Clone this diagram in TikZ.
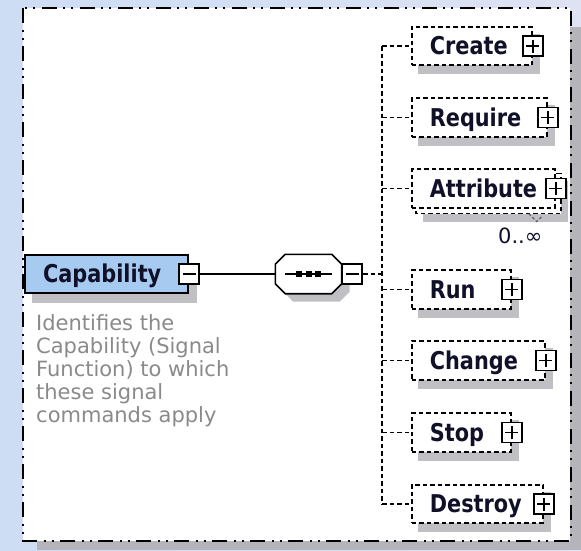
\documentclass[tikz,border=0pt]{standalone}
\usepackage{fontspec}
\usetikzlibrary{calc}
\newfontfamily\elemfont[FakeStretch=0.85]{DejaVu Sans}
\newfontfamily\notefont{DejaVu Sans}

\definecolor{deskleft}{RGB}{205,221,244}
\definecolor{deskright}{RGB}{222,226,243}
\definecolor{panelshade}{RGB}{180,180,186}
\definecolor{boxshade}{RGB}{192,192,196}
\definecolor{rootfill}{RGB}{166,202,240}
\definecolor{elemtext}{RGB}{16,16,40}
\definecolor{notegray}{RGB}{138,138,138}

\pgfdeclarelayer{panel}
\pgfdeclarelayer{shade}
\pgfsetlayers{panel,shade,main}

% outline of the sequence compositor (chamfered rectangle around a named node)
\newcommand\seqoutline[1]{([xshift=10pt]#1.north west) -- ([xshift=-10pt]#1.north east)
  -- ([yshift=-10pt]#1.north east) -- ([yshift=10pt]#1.south east)
  -- ([xshift=-10pt]#1.south east) -- ([xshift=10pt]#1.south west)
  -- ([yshift=10pt]#1.south west) -- ([yshift=-10pt]#1.north west) -- cycle}

\tikzset{
  panelborder/.style={line width=2.4pt, dash pattern=on 15pt off 7pt on 2pt off 6pt on 2pt off 6pt},
  elemlabel/.style={font=\elemfont\bfseries\fontsize{24.5}{28}\selectfont, text=elemtext},
  childbox/.style={elemlabel, draw, fill=white, line width=1.7pt, dash pattern=on 4.5pt off 3pt,
    anchor=west, inner sep=0pt, minimum height=38.5pt, text height=22pt, text depth=5pt,
    align=left, text width=#1},
  stackbox/.style={draw, fill=white, line width=1.7pt, dash pattern=on 4.5pt off 3pt},
  rootbox/.style={elemlabel, draw, fill=rootfill, line width=2.2pt, anchor=west, inner sep=0pt,
    minimum height=38pt, text height=22pt, text depth=5pt, align=left, text width=#1},
  togglebox/.style={draw, fill=white, line width=1.6pt, minimum size=20pt, inner sep=0pt},
  minusbox/.style={togglebox, path picture={\draw[line width=1.8pt]
    ([xshift=-6.5pt]path picture bounding box.center) -- ([xshift=6.5pt]path picture bounding box.center);}},
  plusbox/.style={togglebox, path picture={\draw[line width=1.8pt]
    ([xshift=-6.5pt]path picture bounding box.center) -- ([xshift=6.5pt]path picture bounding box.center)
    ([yshift=-6.5pt]path picture bounding box.center) -- ([yshift=6.5pt]path picture bounding box.center);}},
  link/.style={line width=1.6pt},
  conn/.style={line width=1.7pt, dash pattern=on 4.5pt off 3pt},
  note/.style={font=\notefont\fontsize{21}{23}\selectfont, text=notegray, align=left, inner sep=0pt},
  occurs/.style={font=\notefont\fontsize{21}{23}\selectfont, text=elemtext, inner sep=0pt},
}

\begin{document}
\begin{tikzpicture}[x=1pt, y=-1pt]
\useasboundingbox (0,0) rectangle (581,550);

% desktop, panel shadow, panel and its border
\begin{pgfonlayer}{panel}
  \shade[left color=deskleft, right color=deskright] (0,0) rectangle (581,550);
  \fill[panelshade] (37,27) rectangle (581,550);
  \fill[white] (23,8) rectangle (569.5,541);
  \draw[panelborder] (23,8) rectangle (571,541);
\end{pgfonlayer}

% root element
\node[rootbox=163pt] (capability) at (24,274) {\hspace*{18pt}Capability};
\node[minusbox] (capminus) at (capability.east) {};
\node[note, anchor=north west] (capnote) at (36,314)
  {Identifies the\\Capability (Signal\\Function) to which\\these signal\\commands apply};

% sequence compositor
\node[inner sep=0pt, minimum width=66pt, minimum height=39pt] (seq) at (308.5,274) {};
\draw[link, fill=white] \seqoutline{seq};
\draw[link] ([xshift=-23.5pt]seq.center) -- ([xshift=23.5pt]seq.center);
\foreach \dx in {-9.5,0,9.5}
  \fill ([xshift=\dx pt]seq.center) +(-3,-3) rectangle +(3,3);
\node[minusbox] (seqminus) at ([xshift=10.5pt]seq.east) {};

% child elements
\node[childbox=120pt] (create)    at (411,46)    {\hspace*{18pt}Create};
\node[childbox=135pt] (require)   at (411,117.5) {\hspace*{18pt}Require};
\node[childbox=143pt] (attribute) at (411,188.5) {\hspace*{18pt}Attribute};
\node[childbox=99pt]  (run)       at (411,289.5) {\hspace*{18pt}Run};
\node[childbox=133pt] (change)    at (411,360.5) {\hspace*{18pt}Change};
\node[childbox=99pt]  (stop)      at (411,432.5) {\hspace*{18pt}Stop};
\node[childbox=131pt] (destroy)   at (411,504)   {\hspace*{18pt}Destroy};

\foreach \c in {create,require,attribute,run,change,stop,destroy}
  \node[plusbox] (\c plus) at (\c.east) {};

\node[occurs, anchor=base west] (attroccurs) at (498,243) {0..∞};

% connectors
\draw[link] (capminus.east) -- (seq.west);
\coordinate (bus) at (382,274);
\draw[conn] (seqminus.east) -- (bus);
\draw[conn] (bus |- create.west) -- (bus |- destroy.west);
\foreach \c in {create,require,attribute,run,change,stop,destroy}
  \draw[conn] (bus |- \c.west) -- (\c.west);

% drop shadows and the stacked copy of the repeated element
\begin{pgfonlayer}{shade}
  \foreach \c in {create,require,run,change,stop,destroy}
    \fill[boxshade] ([shift={(7,8)}]\c.north west) rectangle ([shift={(7,8)}]\c.south east);
  \fill[boxshade] ([shift={(12,13)}]attribute.north west) rectangle ([shift={(12,13)}]attribute.south east);
  \draw[stackbox] ([shift={(5,5)}]attribute.north west) rectangle ([shift={(5,5)}]attribute.south east);
  \draw[line width=1pt, dash pattern=on 3pt off 2pt, elemtext!70]
    ([shift={(-27,5)}]attribute.south east) -- ++(8,8) -- ++(6,-6);
  \fill[boxshade] ([shift={(8,9)}]capability.north west) rectangle ([shift={(8,9)}]capability.south east);
  \fill[boxshade, transform canvas={shift={(8,8)}}] \seqoutline{seq};
\end{pgfonlayer}
\end{tikzpicture}
\end{document}
